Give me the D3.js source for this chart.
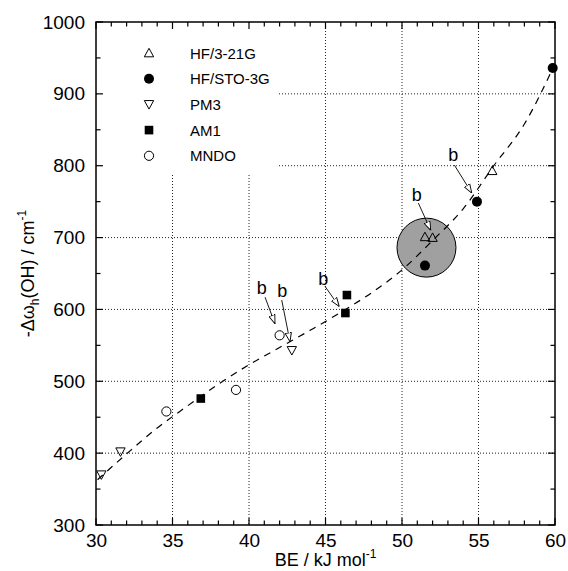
<!DOCTYPE html>
<html><head><meta charset="utf-8">
<script src="https://cdn.jsdelivr.net/npm/d3@7"></script>
<style>body{margin:0;background:#fff}text{font-family:"Liberation Sans",Arial,sans-serif}</style>
</head><body>
<svg id="c" width="568" height="571"></svg>
<script>
// ---- data ----
const seriesNames = ["HF/3-21G", "HF/STO-3G", "PM3", "AM1", "MNDO"];
const hf321gPts = [[51.5, 701], [52.0, 700], [55.9, 793]];
const hfsto3gPts = [[51.5, 661], [54.9, 750], [59.85, 936]];
const pm3Pts = [[30.35, 370], [31.6, 402], [42.8, 543]];
const am1Pts = [[36.85, 476], [46.3, 595], [46.4, 620]];
const mndoPts = [[34.6, 458], [39.15, 488], [42.0, 564]];
// dashed trend curve
const trendX = [30.1, 32, 34, 36, 38, 40, 42, 44, 46, 48, 50, 52, 54, 56, 58, 60];
const trendY = [363, 399, 435, 466, 496, 523, 547, 571, 596, 623, 655, 696, 740, 800, 858, 942];
// highlight circle centre
const highlightCenter = [51.6, 686];
// "b" annotations: label, arrow tail, arrow tip (data units)
const annLabels = [[40.83, 630], [42.18, 625], [44.86, 642], [50.96, 759], [53.35, 815]];
const annTails = [[41.05, 617], [42.14, 613], [44.97, 632], [51.07, 748], [53.42, 801]];
const annTips = [[41.70, 580], [42.68, 555], [45.90, 604], [51.88, 710], [54.56, 762]];
const xTicks = [30, 35, 40, 45, 50, 55, 60];
const yTicks = [300, 400, 500, 600, 700, 800, 900, 1000];

// ---- layout ----
const L = 96, R = 555, T = 22, B = 525;
const svg = d3.select("#c");
const x = d3.scaleLinear().domain([30, 60]).range([L, R]);
const y = d3.scaleLinear().domain([300, 1000]).range([B, T]);

svg.append("defs").append("marker").attr("id", "ah")
  .attr("viewBox", "0 0 10 10").attr("refX", 10).attr("refY", 5)
  .attr("markerWidth", 9).attr("markerHeight", 9).attr("markerUnits", "userSpaceOnUse")
  .attr("orient", "auto")
  .append("path").attr("d", "M0,1.5 L10,5 L0,8.5 Z")
  .attr("fill", "#fff").attr("stroke", "#000").attr("stroke-width", 1);

// grid
const g = svg.append("g").attr("stroke", "#222").attr("stroke-width", 1).attr("stroke-dasharray", "1,2");
xTicks.slice(1, -1).forEach(v => g.append("line").attr("x1", x(v)).attr("x2", x(v)).attr("y1", T).attr("y2", B));
yTicks.slice(1, -1).forEach(v => g.append("line").attr("y1", y(v)).attr("y2", y(v)).attr("x1", L).attr("x2", R));

// legend background (hides grid)
svg.append("rect").attr("x", L + 1).attr("y", T + 1).attr("width", 182).attr("height", 150).attr("fill", "#fff");

// highlight circle
svg.append("circle").attr("cx", x(highlightCenter[0])).attr("cy", y(highlightCenter[1])).attr("r", 29.5)
  .attr("fill", "#a0a0a0").attr("stroke", "#000").attr("stroke-width", 1);

// trend line
const trend = trendX.map((v, i) => [v, trendY[i]]);
svg.append("path").datum(trend)
  .attr("d", d3.line().x(d => x(d[0])).y(d => y(d[1])).curve(d3.curveMonotoneX))
  .attr("fill", "none").attr("stroke", "#000").attr("stroke-width", 1.2).attr("stroke-dasharray", "7,6");

// axes frame with ticks
function axisTicks(axis, pos, scale, step, sizeMaj, sizeMin, major) {
  return d3[axis](scale).tickValues(d3.range(scale.domain()[0], scale.domain()[1] + 0.001, step))
    .tickSize(0).tickFormat("");
}
const frame = svg.append("g").attr("stroke", "#000").attr("stroke-width", 1.2);
// minor & major ticks inward on all four sides
d3.range(30, 60.001, 1).forEach(v => {
  const len = (Math.round(v) % 5 === 0) ? 7 : 4.5;
  frame.append("line").attr("x1", x(v)).attr("x2", x(v)).attr("y1", B).attr("y2", B - len);
  frame.append("line").attr("x1", x(v)).attr("x2", x(v)).attr("y1", T).attr("y2", T + len);
});
d3.range(300, 1000.001, 50).forEach(v => {
  const len = (Math.round(v) % 100 === 0) ? 7 : 4.5;
  frame.append("line").attr("y1", y(v)).attr("y2", y(v)).attr("x1", L).attr("x2", L + len);
  frame.append("line").attr("y1", y(v)).attr("y2", y(v)).attr("x1", R).attr("x2", R - len);
});
svg.append("rect").attr("x", L).attr("y", T).attr("width", R - L).attr("height", B - T)
  .attr("fill", "none").attr("stroke", "#000").attr("stroke-width", 1.5);

// tick labels via d3 axes (no lines)
const xa = svg.append("g").attr("transform", `translate(0,${B})`)
  .call(d3.axisBottom(x).tickValues(xTicks).tickSize(0).tickPadding(8).tickFormat(d3.format("d")));
xa.select(".domain").remove();
xa.selectAll("text").attr("font-size", 19).attr("font-family", "Liberation Sans, Arial").attr("fill", "#000").attr("dy", "0.72em");
const ya = svg.append("g").attr("transform", `translate(${L},0)`)
  .call(d3.axisLeft(y).tickValues(yTicks).tickSize(0).tickPadding(11).tickFormat(d3.format("d")));
ya.select(".domain").remove();
ya.selectAll("text").attr("font-size", 19).attr("font-family", "Liberation Sans, Arial").attr("fill", "#000");

// axis titles
const xt = svg.append("text").attr("x", (L + R) / 2).attr("y", 566).attr("text-anchor", "middle").attr("font-size", 18);
xt.append("tspan").text("BE / kJ mol");
xt.append("tspan").attr("font-size", 12).attr("dy", -8).text("-1");
const yt = svg.append("text").attr("transform", `translate(34,${(T + B) / 2}) rotate(-90)`).attr("text-anchor", "middle").attr("font-size", 18);
yt.append("tspan").text("-Δω");
yt.append("tspan").attr("font-size", 12).attr("dy", 5).text("h");
yt.append("tspan").attr("dy", -5).text("(OH) / cm");
yt.append("tspan").attr("font-size", 12).attr("dy", -8).text("-1");

// symbols
const triUp = s => `M0,${-s * 0.55} L${s * 0.55},${s * 0.45} L${-s * 0.55},${s * 0.45} Z`;
const triDn = s => `M0,${s * 0.55} L${s * 0.55},${-s * 0.45} L${-s * 0.55},${-s * 0.45} Z`;
const styles = [
  {pts: hf321gPts, draw: (sel) => sel.append("path").attr("d", triUp(8.5)).attr("fill", "none").attr("stroke", "#000").attr("stroke-width", 1)},
  {pts: hfsto3gPts, draw: (sel) => sel.append("circle").attr("r", 5).attr("fill", "#000")},
  {pts: pm3Pts, draw: (sel) => sel.append("path").attr("d", triDn(8.5)).attr("fill", "none").attr("stroke", "#000").attr("stroke-width", 1)},
  {pts: am1Pts, draw: (sel) => sel.append("rect").attr("x", -4.3).attr("y", -4.3).attr("width", 8.6).attr("height", 8.6).attr("fill", "#000")},
  {pts: mndoPts, draw: (sel) => sel.append("circle").attr("r", 4.6).attr("fill", "none").attr("stroke", "#000").attr("stroke-width", 1)}
];
styles.forEach(s => {
  s.pts.forEach(p => {
    const gg = svg.append("g").attr("transform", `translate(${x(p[0])},${y(p[1])})`);
    s.draw(gg);
  });
});

// legend
seriesNames.forEach((n, i) => {
  const ly = 53 + i * 25.7;
  const gg = svg.append("g").attr("transform", `translate(149,${ly})`);
  styles[i].draw(gg);
  svg.append("text").attr("x", 190).attr("y", ly + 5.5).attr("font-size", 15).text(n);
});

// annotations
annLabels.forEach((p, i) => {
  svg.append("text").attr("x", x(p[0])).attr("y", y(p[1]) + 6).attr("text-anchor", "middle").attr("font-size", 18).text("b");
  svg.append("line").attr("x1", x(annTails[i][0])).attr("y1", y(annTails[i][1]))
    .attr("x2", x(annTips[i][0])).attr("y2", y(annTips[i][1]))
    .attr("stroke", "#000").attr("stroke-width", 0.9).attr("marker-end", "url(#ah)");
});
</script>
</body></html>
